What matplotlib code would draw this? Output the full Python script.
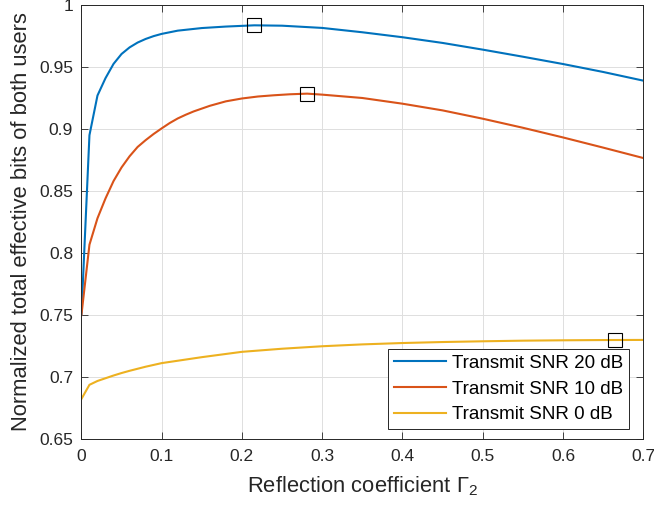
import numpy as np
import matplotlib
matplotlib.use("Agg")
import matplotlib.pyplot as plt

plt.rcParams['font.family'] = ['Liberation Sans', 'DejaVu Sans']
plt.rcParams['mathtext.fontset'] = 'custom'
plt.rcParams['mathtext.rm'] = 'Liberation Sans'
plt.rcParams['mathtext.it'] = 'Liberation Sans:italic'

# reflection coefficient samples
gamma_20 = [0, 0.01, 0.02, 0.03, 0.04, 0.05, 0.06, 0.07, 0.08, 0.09, 0.10, 0.12,
            0.15, 0.18, 0.2155, 0.25, 0.30, 0.35, 0.40, 0.45, 0.50, 0.55, 0.60, 0.65, 0.70]
snr_20 = [0.750, 0.895, 0.927, 0.941, 0.9525, 0.9605, 0.9658, 0.9697, 0.9726, 0.9749, 0.9767, 0.9793,
          0.9814, 0.9826, 0.9836, 0.9833, 0.9815, 0.978, 0.974, 0.9694, 0.964, 0.9583, 0.9524,
          0.946, 0.939]

gamma_10 = [0, 0.01, 0.02, 0.03, 0.04, 0.05, 0.06, 0.07, 0.08, 0.09, 0.10, 0.11, 0.12, 0.13,
            0.14, 0.16, 0.18, 0.20, 0.22, 0.24, 0.26, 0.2813, 0.30, 0.35, 0.40, 0.45, 0.50,
            0.55, 0.60, 0.65, 0.70]
snr_10 = [0.750, 0.8067, 0.828, 0.844, 0.858, 0.869, 0.878, 0.8855, 0.891, 0.896, 0.9005, 0.9048,
          0.9085, 0.9115, 0.9142, 0.9187, 0.9223, 0.9246, 0.9262, 0.9272, 0.928, 0.9285, 0.9277,
          0.925, 0.9204, 0.915, 0.9083, 0.901, 0.8932, 0.885, 0.8766]

gamma_0 = [0, 0.01, 0.02, 0.03, 0.04, 0.05, 0.06, 0.08, 0.10, 0.15, 0.20, 0.25, 0.30, 0.35,
           0.40, 0.45, 0.50, 0.55, 0.60, 0.65, 0.70]
snr_0 = [0.6823, 0.6937, 0.6968, 0.699, 0.7012, 0.7032, 0.705, 0.7083, 0.7112, 0.716, 0.7203,
         0.7228, 0.7248, 0.7263, 0.7274, 0.7282, 0.7288, 0.7293, 0.7296, 0.7298, 0.7299]

# optimum points (square markers)
opt_x = [0.2155, 0.2813, 0.665]
opt_y = [0.9836, 0.9285, 0.7299]

labels = ['Transmit SNR 20 dB', 'Transmit SNR 10 dB', 'Transmit SNR 0 dB']
colors = ['#0072BD', '#D95319', '#EDB120']

xticks = [0, 0.1, 0.2, 0.3, 0.4, 0.5, 0.6, 0.7]
xticklabels = ['0', '0.1', '0.2', '0.3', '0.4', '0.5', '0.6', '0.7']
yticks = [0.65, 0.7, 0.75, 0.8, 0.85, 0.9, 0.95, 1.0]
yticklabels = ['0.65', '0.7', '0.75', '0.8', '0.85', '0.9', '0.95', '1']

fig = plt.figure(figsize=(6.54, 5.14), dpi=100)
ax = fig.add_axes([0.1245, 0.1459, 0.859, 0.8444])

ax.plot(gamma_20, snr_20, color=colors[0], lw=1.5, label=labels[0])
ax.plot(gamma_10, snr_10, color=colors[1], lw=1.5, label=labels[1])
ax.plot(gamma_0, snr_0, color=colors[2], lw=1.5, label=labels[2])
ax.plot(opt_x, opt_y, ls='none', marker='s', ms=10, mfc='none', mec='k', mew=0.8)

ax.set_xlim(0, 0.7)
ax.set_ylim(0.65, 1.0)
ax.set_xticks(xticks)
ax.set_xticklabels(xticklabels)
ax.set_yticks(yticks)
ax.set_yticklabels(yticklabels)
ax.tick_params(direction='in', top=True, right=True, length=5, width=0.6,
               labelsize=12.5, colors='#262626')
ax.tick_params(axis='x', pad=7)
ax.tick_params(axis='y', pad=6)
ax.grid(True, color='#DFDFDF', lw=0.7)
ax.set_axisbelow(True)
for s in ax.spines.values():
    s.set_color('#262626')
    s.set_linewidth(0.7)

ax.set_xlabel(r'Reflection coefficient $\Gamma_2$', fontsize=15.8, color='#262626', labelpad=8)
ax.set_ylabel('Normalized total effective bits of both users', fontsize=15.8,
              color='#262626', labelpad=5)

leg = ax.legend(loc='lower right', bbox_to_anchor=(0.9746, 0.023), fontsize=13.5,
                fancybox=False, framealpha=1, edgecolor='#262626', handlelength=2.8,
                borderaxespad=0, labelspacing=0.46, handletextpad=0.3, borderpad=0.3)
leg.get_frame().set_linewidth(0.7)

fig.savefig('out.png', dpi=100)
